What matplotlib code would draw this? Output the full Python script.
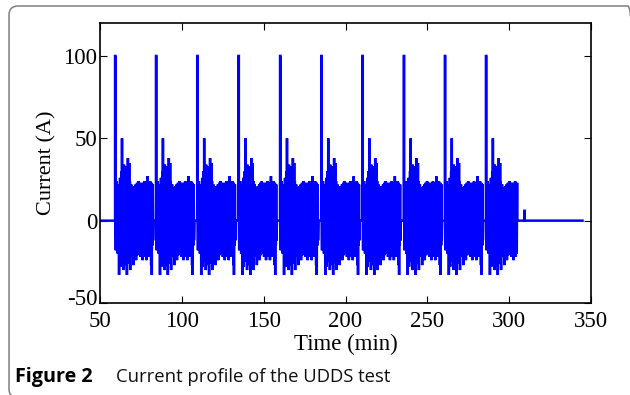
import numpy as np
import matplotlib
matplotlib.use("Agg")
import matplotlib.pyplot as plt
from matplotlib.patches import FancyBboxPatch
from matplotlib.transforms import IdentityTransform, ScaledTranslation

plt.rcParams["axes.unicode_minus"] = False

# ---------------- data ----------------
# start times (min) of each UDDS cycle, marked by the 100 A pulse
cycle_starts = [59.2, 84.2, 109.4, 134.6, 160.0, 185.2, 210.3, 235.6, 260.7, 285.8]
pulse_current = 100.0          # A
pulse_width = 0.25             # min
sample_step = 0.2              # min between samples of the drive profile
# one UDDS drive-cycle current profile (A), sampled every 0.2 min after the pulse
udds_cycle = [
    -18, 12, -15, 24, -10, 20, -20, 15, -18, 22,
    -33, 18, -22, 26, -28, 20, -15, 30, -24, 50,
    -20, 28, -25, 22, -30, 34, -18, 25, -22, 30,
    -27, 28, -20, 33, -33, 26, -24, 38, -18, 32,
    -22, 35, -26, 24, -30, 18, -20, 22, -15, 18,
    -18, 20, -22, 17, -27, 19, -16, 21, -20, 18,
    -19, 22, -24, 18, -17, 23, -21, 19, -18, 24,
    -20, 22, -17, 18, -20, 23, -22, 20, -19, 22,
    -20, 21, -24, 23, -18, 22, -20, 24, -22, 20,
    -18, 22, -20, 23, -24, 21, -19, 27, -20, 22,
    -17, 23, -22, 20, -20, 24, -18, 21, -27, 23,
    -33, 20, -15, 22, -12, 0,
]
last_cycle_samples = 94        # the last cycle stops early (cut-off)
t_begin, t_end = 50.0, 344.8   # min
final_pulse_t, final_pulse_i = 309.3, 6.0

# ---------------- build the series ----------------
t_parts = [[t_begin]]
i_parts = [[0.0]]
for k, t0 in enumerate(cycle_starts):
    n = len(udds_cycle) if k < len(cycle_starts) - 1 else last_cycle_samples
    vals = np.array(udds_cycle[:n], dtype=float)
    tt = t0 + pulse_width + sample_step * np.arange(1, n + 1)
    t_parts.append([t0, t0, t0 + pulse_width, t0 + pulse_width])
    i_parts.append([0.0, pulse_current, pulse_current, 0.0])
    t_parts.append(tt)
    i_parts.append(vals)
    t_parts.append([tt[-1] + 0.05])
    i_parts.append([0.0])
t_parts.append([final_pulse_t, final_pulse_t, final_pulse_t + 0.2, final_pulse_t + 0.2, t_end])
i_parts.append([0.0, final_pulse_i, final_pulse_i, 0.0, 0.0])
t = np.concatenate([np.asarray(p, float) for p in t_parts])
cur = np.concatenate([np.asarray(p, float) for p in i_parts])

# ---------------- figure ----------------
W, H, DPI = 630, 395, 100
fig = plt.figure(figsize=(W / DPI, H / DPI), dpi=DPI)
fig.patch.set_facecolor("white")

ax = fig.add_axes([100 / W, 1 - 303 / H, 491 / W, 280 / H])
ax.plot(t, cur, color="#0000ff", lw=1.8, solid_joinstyle="miter")
ax.set_xlim(50, 350)
ax.set_ylim(-50, 120)
ax.set_xticks([50, 100, 150, 200, 250, 300, 350])
ax.set_yticks([-50, 0, 50, 100])

serif = ["Liberation Serif", "DejaVu Serif"]
for lab in ax.get_xticklabels() + ax.get_yticklabels():
    lab.set_family(serif)
    lab.set_fontsize(16.5)
ax.tick_params(direction="in", length=5, width=0.8, top=True, right=True,
               color="black")
ax.tick_params(axis="x", pad=6)
ax.tick_params(axis="y", pad=2)
# lift the lowest y label a little, as in the reference, so it clears "50"
low = ax.get_yticklabels()[0]
low.set_transform(low.get_transform() + ScaledTranslation(0, 4 / 72, fig.dpi_scale_trans))
for s in ax.spines.values():
    s.set_linewidth(1.2)
ax.set_xlabel("Time (min)", family=serif, fontsize=16.5, labelpad=1)
ax.set_ylabel("Current (A)", family=serif, fontsize=16, labelpad=5)

# caption
fig.text(15 / W, 1 - 382 / H, "Figure 2", family=["Open Sans", "DejaVu Sans"],
         fontweight="bold", fontsize=14.2, color="black", va="baseline")
fig.text(116 / W, 1 - 382 / H, "Current profile of the UDDS test",
         family=["Open Sans", "DejaVu Sans"], fontsize=13.3, color="#111111",
         va="baseline")

# rounded frame (top and left edges visible)
frame = FancyBboxPatch((9, -3), 628, 392, boxstyle="round,pad=0,rounding_size=9",
                       transform=IdentityTransform(), fill=False,
                       edgecolor="#808080", lw=1.1)
fig.add_artist(frame)

fig.savefig("out.png", dpi=DPI, facecolor="white")
